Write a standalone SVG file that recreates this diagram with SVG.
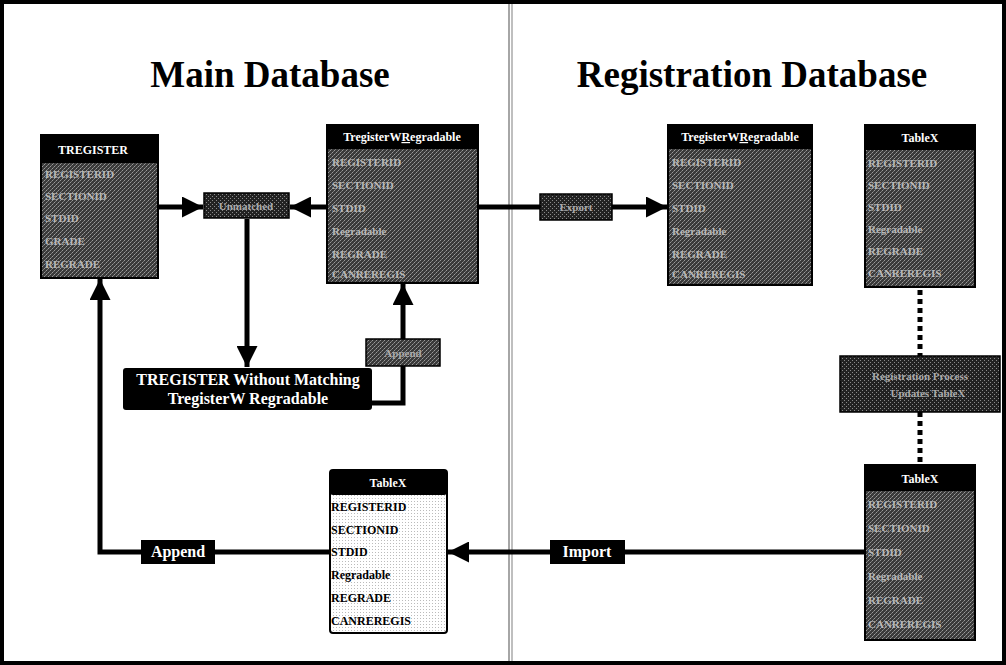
<svg xmlns="http://www.w3.org/2000/svg" width="1006" height="665" viewBox="0 0 1006 665">
<defs>
<pattern id="dither" width="4" height="4" patternUnits="userSpaceOnUse">
<rect width="4" height="4" fill="#3a3a3a"/>
<rect x="0" y="0" width="1" height="1" fill="#9a9a9a"/>
<rect x="2" y="2" width="1" height="1" fill="#9a9a9a"/>
<rect x="1" y="3" width="1" height="1" fill="#777"/>
<rect x="3" y="1" width="1" height="1" fill="#777"/>
</pattern>
<pattern id="dither2" width="4" height="4" patternUnits="userSpaceOnUse">
<rect width="4" height="4" fill="#222"/>
<rect x="0" y="0" width="1" height="1" fill="#8a8a8a"/>
<rect x="2" y="2" width="1" height="1" fill="#8a8a8a"/>
</pattern>
<pattern id="light" width="3" height="3" patternUnits="userSpaceOnUse">
<rect width="3" height="3" fill="#fff"/>
<rect x="0" y="0" width="1" height="1" fill="#bbb"/>
</pattern>
<marker id="ah" viewBox="0 0 10 10" refX="10" refY="5" markerWidth="4.2" markerHeight="4.2" orient="auto" markerUnits="strokeWidth">
<path d="M0,0 L10,5 L0,10 z" fill="#000"/>
</marker>
</defs>
<style>
.title{font-family:"Liberation Serif",serif;font-weight:bold;font-size:37px;fill:#000}
.hdr{font-family:"Liberation Serif",serif;font-weight:bold;font-size:12px;fill:#fff}
.fld{font-family:"Liberation Serif",serif;font-weight:bold;font-size:11px;fill:#b8b8b8}
.fldk{font-family:"Liberation Serif",serif;font-weight:bold;font-size:12px;fill:#000}
.lbl{font-family:"Liberation Serif",serif;font-weight:bold;font-size:11px;fill:#aaa}
.wlbl{font-family:"Liberation Serif",serif;font-weight:bold;font-size:16px;fill:#fff}
.conn{stroke:#000;stroke-width:5;fill:none}
.dot{stroke:#000;stroke-width:5;fill:none;stroke-dasharray:5 4}
</style>
<rect x="0" y="0" width="1006" height="665" fill="#fff"/>
<rect x="2" y="2" width="1002" height="661" fill="none" stroke="#000" stroke-width="4"/>
<line x1="509" y1="4" x2="509" y2="661" stroke="#888" stroke-width="1.5"/>
<line x1="512" y1="4" x2="512" y2="661" stroke="#aaa" stroke-width="1.5"/>
<text class="title" x="270" y="87" text-anchor="middle">Main Database</text>
<text class="title" x="752" y="87" text-anchor="middle">Registration Database</text>

<g id="connectors">
<line class="conn" x1="158" y1="207" x2="203" y2="207" marker-end="url(#ah)"/>
<line class="conn" x1="327" y1="207" x2="290" y2="207" marker-end="url(#ah)"/>
<line class="conn" x1="247" y1="219" x2="247" y2="367" marker-end="url(#ah)"/>
<polyline class="conn" points="372,403 403,403 403,366"/>
<line class="conn" x1="403" y1="339" x2="403" y2="284" marker-end="url(#ah)"/>
<line class="conn" x1="478" y1="207" x2="540" y2="207"/>
<line class="conn" x1="612" y1="207" x2="667" y2="207" marker-end="url(#ah)"/>
<line class="dot" x1="920" y1="290" x2="920" y2="356"/>
<line class="dot" x1="920" y1="412" x2="920" y2="465"/>
<line class="conn" x1="865" y1="552" x2="625" y2="552"/>
<line class="conn" x1="550" y1="552" x2="448" y2="552" marker-end="url(#ah)"/>
<line class="conn" x1="330" y1="552" x2="215" y2="552"/>
<polyline class="conn" points="141,552 100,552 100,279" marker-end="url(#ah)"/>
</g>

<g id="tregister">
<rect x="41" y="135" width="117" height="143" fill="url(#dither)" stroke="#000" stroke-width="2"/>
<rect x="41" y="135" width="117" height="28" fill="#000"/>
<text class="hdr" x="93" y="154" text-anchor="middle" font-size="13">TREGISTER</text>
<text class="fld" x="45" y="178">REGISTERID</text>
<text class="fld" x="45" y="200">SECTIONID</text>
<text class="fld" x="45" y="222">STDID</text>
<text class="fld" x="45" y="245">GRADE</text>
<text class="fld" x="45" y="268">REGRADE</text>
</g>

<g id="unmatched">
<rect x="204" y="193" width="85" height="25" fill="url(#dither2)" stroke="#000" stroke-width="1.5"/>
<text class="lbl" x="246" y="210" text-anchor="middle">Unmatched</text>
</g>

<g id="tregw-main">
<rect x="327" y="125" width="151" height="158" fill="url(#dither)" stroke="#000" stroke-width="2"/>
<rect x="327" y="125" width="151" height="24" fill="#000"/>
<text class="hdr" x="402" y="141" text-anchor="middle">TregisterW<tspan text-decoration="underline">R</tspan>egradable</text>
<text class="fld" x="332" y="166">REGISTERID</text>
<text class="fld" x="332" y="189">SECTIONID</text>
<text class="fld" x="332" y="212">STDID</text>
<text class="fld" x="332" y="235">Regradable</text>
<text class="fld" x="332" y="258">REGRADE</text>
<text class="fld" x="332" y="278">CANREREGIS</text>
</g>

<g id="without">
<rect x="123" y="368" width="249" height="42" rx="3" fill="#000"/>
<text class="wlbl" x="248" y="385" text-anchor="middle">TREGISTER Without Matching</text>
<text class="wlbl" x="248" y="404" text-anchor="middle">TregisterW Regradable</text>
</g>

<g id="append-upper">
<rect x="366" y="339" width="74" height="27" fill="url(#dither)" stroke="#000" stroke-width="1.5"/>
<text class="lbl" x="403" y="357" text-anchor="middle">Append</text>
</g>

<g id="export">
<rect x="540" y="194" width="72" height="26" fill="url(#dither2)" stroke="#000" stroke-width="1.5"/>
<text class="lbl" x="576" y="211" text-anchor="middle">Export</text>
</g>

<g id="tregw-reg">
<rect x="668" y="125" width="144" height="160" fill="url(#dither)" stroke="#000" stroke-width="2"/>
<rect x="668" y="125" width="144" height="24" fill="#000"/>
<text class="hdr" x="740" y="141" text-anchor="middle">TregisterW<tspan text-decoration="underline">R</tspan>egradable</text>
<text class="fld" x="672" y="166">REGISTERID</text>
<text class="fld" x="672" y="189">SECTIONID</text>
<text class="fld" x="672" y="212">STDID</text>
<text class="fld" x="672" y="235">Regradable</text>
<text class="fld" x="672" y="258">REGRADE</text>
<text class="fld" x="672" y="278">CANREREGIS</text>
</g>

<g id="tablex-reg-top">
<rect x="865" y="125" width="110" height="162" fill="url(#dither)" stroke="#000" stroke-width="2"/>
<rect x="865" y="125" width="110" height="25" fill="#000"/>
<text class="hdr" x="920" y="142" text-anchor="middle">TableX</text>
<text class="fld" x="868" y="167">REGISTERID</text>
<text class="fld" x="868" y="189">SECTIONID</text>
<text class="fld" x="868" y="211">STDID</text>
<text class="fld" x="868" y="233">Regradable</text>
<text class="fld" x="868" y="255">REGRADE</text>
<text class="fld" x="868" y="277">CANREREGIS</text>
</g>

<g id="reg-process">
<rect x="840" y="356" width="160" height="56" fill="url(#dither2)" stroke="#000" stroke-width="1.5"/>
<text class="lbl" x="920" y="380" text-anchor="middle">Registration Process</text>
<text class="lbl" x="928" y="397" text-anchor="middle">Updates TableX</text>
</g>

<g id="tablex-reg-bottom">
<rect x="865" y="465" width="110" height="175" fill="url(#dither)" stroke="#000" stroke-width="2"/>
<rect x="865" y="465" width="110" height="26" fill="#000"/>
<text class="hdr" x="920" y="483" text-anchor="middle">TableX</text>
<text class="fld" x="868" y="508">REGISTERID</text>
<text class="fld" x="868" y="532">SECTIONID</text>
<text class="fld" x="868" y="556">STDID</text>
<text class="fld" x="868" y="580">Regradable</text>
<text class="fld" x="868" y="604">REGRADE</text>
<text class="fld" x="868" y="628">CANREREGIS</text>
</g>

<g id="import">
<rect x="550" y="540" width="75" height="24" fill="#000"/>
<text class="wlbl" x="587" y="557" text-anchor="middle" font-size="13">Import</text>
</g>

<g id="tablex-main">
<rect x="330" y="470" width="117" height="163" rx="3" fill="url(#light)" stroke="#000" stroke-width="2"/>
<rect x="330" y="470" width="117" height="25" rx="3" fill="#000"/>
<text class="hdr" x="388" y="487" text-anchor="middle">TableX</text>
<text class="fldk" x="331" y="511">REGISTERID</text>
<text class="fldk" x="331" y="534">SECTIONID</text>
<text class="fldk" x="331" y="556">STDID</text>
<text class="fldk" x="331" y="579">Regradable</text>
<text class="fldk" x="331" y="602">REGRADE</text>
<text class="fldk" x="331" y="625">CANREREGIS</text>
</g>

<g id="append-lower">
<rect x="141" y="540" width="74" height="24" fill="#000"/>
<text class="wlbl" x="178" y="557" text-anchor="middle" font-size="13" fill="#ddd">Append</text>
</g>
</svg>
